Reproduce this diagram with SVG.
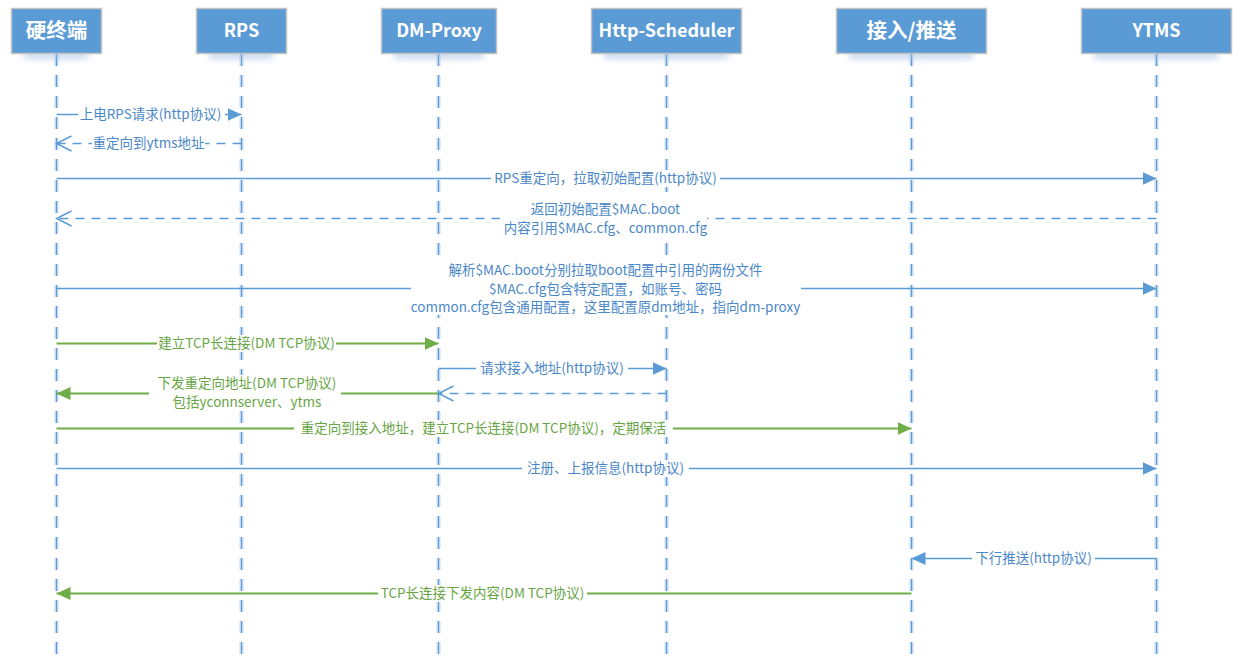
<svg xmlns="http://www.w3.org/2000/svg" width="1247" height="660" viewBox="0 0 1247 660">
<style>
.box{fill:#5b9bd5;stroke:#c3c3c3;stroke-width:1.5}
.shd{fill:#9dbde2;opacity:.55}
.hd{fill:#fff;font-family:"Noto Sans CJK SC","Noto Sans",sans-serif;font-weight:bold;text-anchor:middle}
.life{stroke:#5b9bd5;stroke-width:1.5;stroke-dasharray:12 9;fill:none}
.lifeglow{stroke:#e3edf8;stroke-width:5;stroke-dasharray:12 9;fill:none}
.mb{stroke:#5b9bd5;stroke-width:1.5;fill:none}
.mbd{stroke:#5b9bd5;stroke-width:1.5;stroke-dasharray:9 7;fill:none}
.mg{stroke:#70ad47;stroke-width:2;fill:none}
.bg{fill:#fff}
.tb{fill:#4a87c8;font-family:"Noto Sans CJK SC","Noto Sans",sans-serif;font-size:13.5px;text-anchor:middle}
.tg{fill:#67a544;font-family:"Noto Sans CJK SC","Noto Sans",sans-serif;font-size:13.5px;text-anchor:middle}
</style>
<defs>
<filter id="blur" x="-20%" y="-100%" width="140%" height="300%"><feGaussianBlur stdDeviation="3"/></filter>
<marker id="ab" markerUnits="userSpaceOnUse" markerWidth="14" markerHeight="14" refX="14" refY="6.5" orient="auto" viewBox="0 0 14 13"><path d="M0,0 L14,6.5 L0,13 z" fill="#5b9bd5"/></marker>
<marker id="ag" markerUnits="userSpaceOnUse" markerWidth="14" markerHeight="14" refX="14" refY="6.5" orient="auto" viewBox="0 0 14 13"><path d="M0,0 L14,6.5 L0,13 z" fill="#70ad47"/></marker>
<marker id="ao" markerUnits="userSpaceOnUse" markerWidth="18" markerHeight="18" refX="16" refY="8.5" orient="auto" viewBox="0 0 18 17"><path d="M1,1 L16,8.5 L1,16" fill="none" stroke="#5b9bd5" stroke-width="1.5"/></marker>
</defs>
<rect width="1247" height="660" fill="#fff"/>

<g id="lifelines">
<path class="lifeglow" d="M56.5,54 V656 M241.5,54 V656 M438.5,54 V656 M666.5,54 V656 M911.5,54 V656 M1156.5,54 V656"/>
<path class="life" d="M56.5,54 V656 M241.5,54 V656 M438.5,54 V656 M666.5,54 V656 M911.5,54 V656 M1156.5,54 V656"/>
</g>

<g id="node-terminal">
<rect class="shd" x="24" y="50" width="64" height="9" filter="url(#blur)"/>
<rect class="box" x="11.5" y="8.5" width="90" height="45"/>
<text class="hd" x="56.5" y="38" font-size="20.5">硬终端</text>
</g>
<g id="node-rps">
<rect class="shd" x="209" y="50" width="64" height="9" filter="url(#blur)"/>
<rect class="box" x="196.5" y="8.5" width="90" height="45"/>
<text class="hd" x="241.5" y="37" font-size="18">RPS</text>
</g>
<g id="node-dmproxy">
<rect class="shd" x="394" y="50" width="89" height="9" filter="url(#blur)"/>
<rect class="box" x="381.5" y="8.5" width="115" height="45"/>
<text class="hd" x="439" y="37" font-size="18">DM-Proxy</text>
</g>
<g id="node-httpscheduler">
<rect class="shd" x="604" y="50" width="124" height="9" filter="url(#blur)"/>
<rect class="box" x="591.5" y="8.5" width="150" height="45"/>
<text class="hd" x="666.5" y="37" font-size="18">Http-Scheduler</text>
</g>
<g id="node-access">
<rect class="shd" x="849" y="50" width="124" height="9" filter="url(#blur)"/>
<rect class="box" x="836.5" y="8.5" width="150" height="45"/>
<text class="hd" x="911.5" y="38" font-size="20.5">接入/推送</text>
</g>
<g id="node-ytms">
<rect class="shd" x="1094" y="50" width="124" height="9" filter="url(#blur)"/>
<rect class="box" x="1081.5" y="8.5" width="150" height="45"/>
<text class="hd" x="1156.5" y="37" font-size="18">YTMS</text>
</g>

<g id="connectors">
<path class="mb" d="M56.5,114.5 H241.5" marker-end="url(#ab)"/>
<path class="mbd" d="M241.5,143.5 H56.5" marker-end="url(#ao)"/>
<path class="mb" d="M56.5,178.5 H1156.5" marker-end="url(#ab)"/>
<path class="mbd" d="M1156.5,218.5 H56.5" marker-end="url(#ao)"/>
<path class="mb" d="M56.5,288.5 H1156.5" marker-end="url(#ab)"/>
<path class="mg" d="M56.5,343.5 H438.5" marker-end="url(#ag)"/>
<path class="mb" d="M438.5,368.5 H666.5" marker-end="url(#ab)"/>
<path class="mbd" d="M666.5,393.5 H438.5" marker-end="url(#ao)"/>
<path class="mg" d="M438.5,393.5 H56.5" marker-end="url(#ag)"/>
<path class="mg" d="M56.5,428.5 H911.5" marker-end="url(#ag)"/>
<path class="mb" d="M56.5,468.5 H1156.5" marker-end="url(#ab)"/>
<path class="mb" d="M1156.5,558.5 H911.5" marker-end="url(#ab)"/>
<path class="mg" d="M911.5,593.5 H56.5" marker-end="url(#ag)"/>

<rect class="bg" x="78" y="106" width="147" height="17"/>
<text class="tb" x="150.5" y="119">上电RPS请求(http协议)</text>
<rect class="bg" x="92" y="135" width="113" height="17"/>
<text class="tb" x="148.5" y="148">重定向到ytms地址</text>
<rect class="bg" x="491" y="170" width="229" height="17"/>
<text class="tb" x="605.5" y="183">RPS重定向，拉取初始配置(http协议)</text>
<rect class="bg" x="500" y="201" width="207" height="35"/>
<text class="tb" x="605.5" y="214">返回初始配置$MAC.boot</text>
<text class="tb" x="605.5" y="233">内容引用$MAC.cfg、common.cfg</text>
<rect class="bg" x="411" y="261" width="390" height="54"/>
<text class="tb" x="605.5" y="275">解析$MAC.boot分别拉取boot配置中引用的两份文件</text>
<text class="tb" x="605.5" y="294">$MAC.cfg包含特定配置，如账号、密码</text>
<text class="tb" x="605.5" y="312">common.cfg包含通用配置，这里配置原dm地址，指向dm-proxy</text>
<rect class="bg" x="157" y="335" width="179" height="17"/>
<text class="tg" x="246.5" y="348">建立TCP长连接(DM TCP协议)</text>
<rect class="bg" x="476" y="360" width="152" height="17"/>
<text class="tb" x="552" y="373">请求接入地址(http协议)</text>
<rect class="bg" x="149" y="375" width="192" height="36"/>
<text class="tg" x="247" y="388">下发重定向地址(DM TCP协议)</text>
<text class="tg" x="247" y="407">包括yconnserver、ytms</text>
<rect class="bg" x="294" y="420" width="379" height="17"/>
<text class="tg" x="483.5" y="433">重定向到接入地址，建立TCP长连接(DM TCP协议)，定期保活</text>
<rect class="bg" x="522" y="460" width="167" height="17"/>
<text class="tb" x="605.5" y="473">注册、上报信息(http协议)</text>
<rect class="bg" x="972" y="550" width="123" height="17"/>
<text class="tb" x="1033.5" y="563">下行推送(http协议)</text>
<rect class="bg" x="378" y="585" width="209" height="17"/>
<text class="tg" x="482.5" y="598">TCP长连接下发内容(DM TCP协议)</text>
</g>
</svg>
